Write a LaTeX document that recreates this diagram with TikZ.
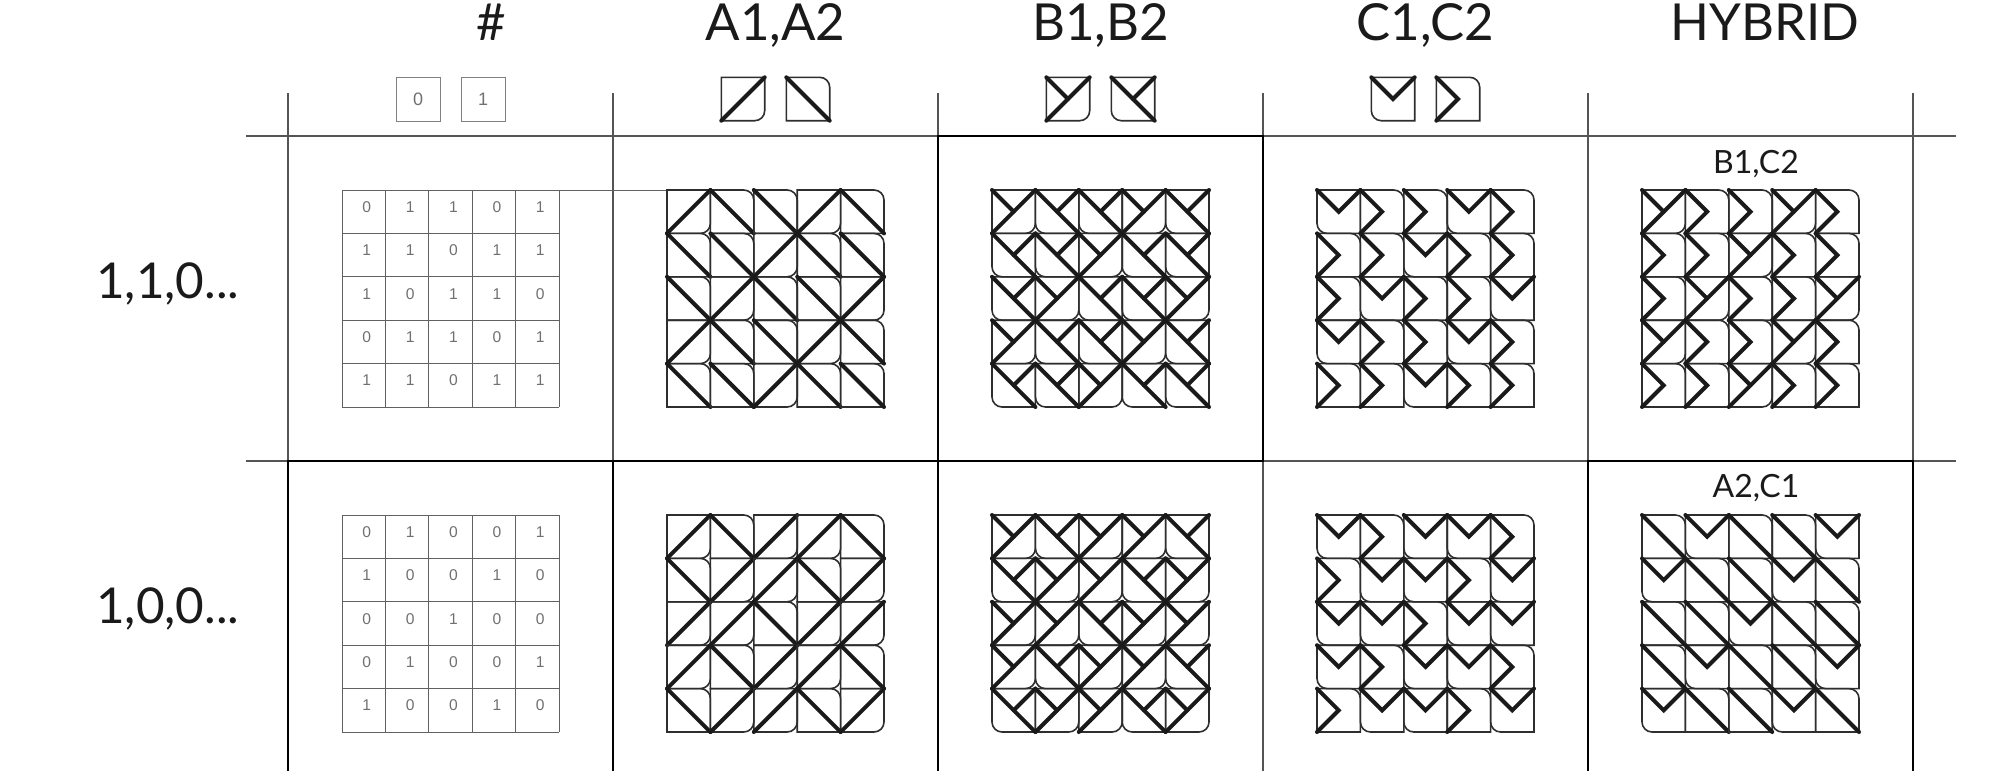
\documentclass[tikz,border=0pt]{standalone}
\usepackage{fontspec}
\setmainfont{Lato}
\newfontfamily\cellfont{Liberation Sans}
\usetikzlibrary{positioning}

\definecolor{ink}{HTML}{1A1A1A}
\definecolor{rimgray}{HTML}{2E2E2E}
\definecolor{rulegray}{HTML}{555555}
\definecolor{digitgray}{HTML}{707070}

\def\cs{43.4}
\def\hs{21.7}

% one tile edge, with a single rounded corner
\tikzset{
  tileedge/.style={draw=rimgray, line width=0.8pt},
  tilestroke/.style={draw=ink, line width=2pt, line cap=round, line join=miter},
  pics/rimbr/.style={code={
    \draw[tileedge] (0,-\hs) -- (-\hs,-\hs) -- (-\hs,\hs) -- (0,\hs) [rounded corners=5pt] -- (\hs,\hs) -- (\hs,0) [sharp corners] -- (\hs,-\hs) -- cycle;
  }},
  pics/rimtr/.style={code={
    \draw[tileedge] (-\hs,0) -- (-\hs,\hs) -- (\hs,\hs) -- (\hs,0) [rounded corners=5pt] -- (\hs,-\hs) -- (0,-\hs) [sharp corners] -- (-\hs,-\hs) -- cycle;
  }},
  pics/rimbl/.style={code={
    \draw[tileedge] (\hs,0) -- (\hs,-\hs) -- (-\hs,-\hs) -- (-\hs,0) [rounded corners=5pt] -- (-\hs,\hs) -- (0,\hs) [sharp corners] -- (\hs,\hs) -- cycle;
  }},
  pics/aone/.style={code={
    \pic {rimbr};
    \draw[tilestroke] (-\hs,\hs) -- (\hs,-\hs);
  }},
  pics/atwo/.style={code={
    \pic {rimtr};
    \draw[tilestroke] (-\hs,-\hs) -- (\hs,\hs);
  }},
  pics/bone/.style={code={
    \pic {rimbr};
    \draw[tilestroke] (-\hs,\hs) -- (\hs,-\hs);
    \draw[tilestroke] (-\hs,-\hs) -- (0,0);
  }},
  pics/btwo/.style={code={
    \pic {rimbl};
    \draw[tilestroke] (-\hs,-\hs) -- (\hs,\hs);
    \draw[tilestroke] (\hs,-\hs) -- (0,0);
  }},
  pics/cone/.style={code={
    \pic {rimbl};
    \draw[tilestroke] (-\hs,-\hs) -- (0,0) -- (\hs,-\hs);
  }},
  pics/ctwo/.style={code={
    \pic {rimtr};
    \draw[tilestroke] (-\hs,-\hs) -- (0,0) -- (-\hs,\hs);
  }},
}

% 5x5 patterns, row by row
\def\patone{{0,1,1,0,1},{1,1,0,1,1},{1,0,1,1,0},{0,1,1,0,1},{1,1,0,1,1}}
\def\pattwo{{0,1,0,0,1},{1,0,0,1,0},{0,0,1,0,0},{0,1,0,0,1},{1,0,0,1,0}}

\newcommand{\numgrid}[3]{%
  \foreach \k in {0,...,5} {
    \draw[numline] ({#1+\k*\cs},#2) -- ({#1+\k*\cs},{#2+5*\cs});
    \draw[numline] (#1,{#2+\k*\cs}) -- ({#1+5*\cs},{#2+\k*\cs});
  }
  \foreach \tiles [count=\ri from 0] in #3 {
    \foreach \bit [count=\ci from 0] in \tiles {
      \node[numtext] (d-#1-#2-\ri-\ci) at ({#1+(\ci+0.5)*\cs+3},{#2+\ri*\cs+17}) {\bit};
    }
  }
}

\newcommand{\tilegrid}[5]{%
  \foreach \tiles [count=\ri from 0] in #3 {
    \foreach \bit [count=\ci from 0] in \tiles {
      \ifnum\bit=0 \pic at ({#1+(\ci+0.5)*\cs},{#2+(\ri+0.5)*\cs}) {#4};
      \else \pic at ({#1+(\ci+0.5)*\cs},{#2+(\ri+0.5)*\cs}) {#5};
      \fi
    }
  }
}

\begin{document}
\begin{tikzpicture}[x=0.5pt, y=-0.5pt]
    \tikzstyle{rule}=[draw=rulegray, line width=0.6pt]
    \tikzstyle{box}=[draw=black, line width=1.2pt]
    \tikzstyle{numline}=[draw=black!62, line width=0.5pt]
    \tikzstyle{numtext}=[inner sep=0pt, text=digitgray, font=\cellfont\fontsize{7.8}{9}\selectfont]
    \tikzstyle{numbox}=[draw=black!50, line width=0.5pt, minimum size=22pt, inner sep=0pt, text=digitgray, font=\cellfont\fontsize{9}{10}\selectfont]
    \tikzstyle{head}=[anchor=base, inner sep=0pt, text=ink, font=\fontsize{25.5}{30}\selectfont]
    \tikzstyle{rowlab}=[anchor=base east, inner sep=0pt, text=ink, font=\fontsize{24.7}{30}\selectfont]
    \tikzstyle{sublab}=[anchor=base, inner sep=0pt, text=ink, font=\fontsize{16}{20}\selectfont]

    \useasboundingbox (0,0) rectangle (2006,771);

    % column heads
    \node[head] (hnum) at (491,40) {\#};
    \node[head] (ha) at (775.5,40) {A1,A2};
    \node[head] (hb) at (1100.5,40) {B1,B2};
    \node[head] (hc) at (1425.5,40) {C1,C2};
    \node[head] (hhy) at (1765,40) {HYBRID};

    % tile keys
    \node[numbox] (kzero) at (418,99) {0};
    \node[numbox] (kone) at (483,99) {1};
    \pic at (743,99) {aone};
    \pic at (808,99) {atwo};
    \pic at (1068,99) {bone};
    \pic at (1133,99) {btwo};
    \pic at (1393,99) {cone};
    \pic at (1458,99) {ctwo};

    % table
    \foreach \x in {288,613,938,1263,1588,1913}
        \draw[rule] (\x,93) -- (\x,771);
    \foreach \y in {136,461}
        \draw[rule] (246,\y) -- (1956,\y);
    \draw[box] (938,136) rectangle (1263,461);
    \draw[box] (288,771) -- (288,461) -- (938,461) -- (938,771);
    \draw[box] (613,461) -- (613,771);
    \draw[box] (1588,771) -- (1588,461) -- (1913,461) -- (1913,771);

    % row heads
    \node[rowlab] (rone) at (240,298.5) {1,1,0...};
    \node[rowlab] (rtwo) at (240,623.5) {1,0,0...};

    % first row
    \numgrid{342}{190}{\patone}
    \coordinate (numtop) at (559,190);
    \coordinate (atop) at (667,190);
    \draw[numline] (numtop) -- (atop);
    \tilegrid{667}{190}{\patone}{aone}{atwo}
    \tilegrid{992}{190}{\patone}{bone}{btwo}
    \tilegrid{1317}{190}{\patone}{cone}{ctwo}
    \node[sublab] (hyone) at (1756,173) {B1,C2};
    \tilegrid{1642}{190}{\patone}{bone}{ctwo}

    % second row
    \numgrid{342}{515}{\pattwo}
    \tilegrid{667}{515}{\pattwo}{aone}{atwo}
    \tilegrid{992}{515}{\pattwo}{bone}{btwo}
    \tilegrid{1317}{515}{\pattwo}{cone}{ctwo}
    \node[sublab] (hytwo) at (1756,497) {A2,C1};
    \tilegrid{1642}{515}{\pattwo}{atwo}{cone}
\end{tikzpicture}
\end{document}
